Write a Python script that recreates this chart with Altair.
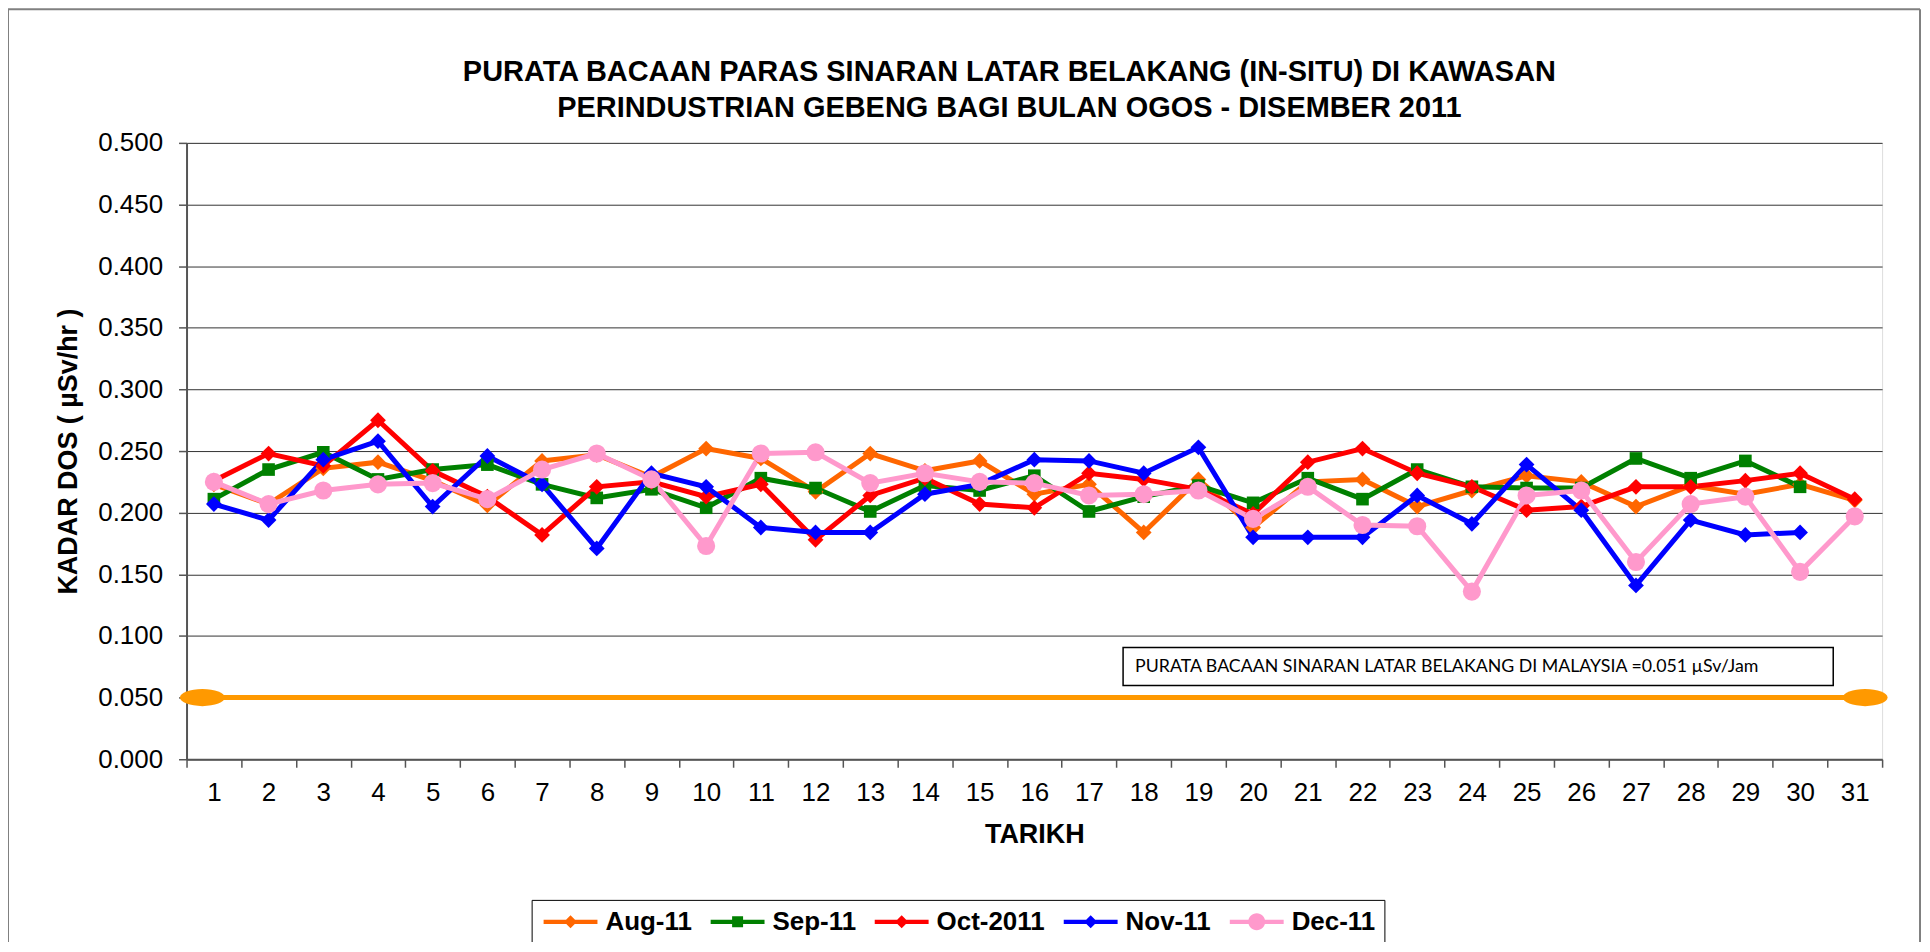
import altair as alt
import pandas as pd

# ---------------- data ----------------
days = list(range(1, 32))
series_names = ["Aug-11", "Sep-11", "Oct-2011", "Nov-11", "Dec-11"]
series_colors = ["#FF6600", "#008000", "#FF0000", "#0000FF", "#FF99CC"]

aug = [0.223, 0.207, 0.236, 0.241, 0.226, 0.206, 0.242, 0.247, 0.229, 0.252,
       0.244, 0.217, 0.248, 0.234, 0.242, 0.215, 0.223, 0.184, 0.227, 0.188,
       0.225, 0.227, 0.205, 0.218, 0.230, 0.225, 0.205, 0.222, 0.215, 0.223, 0.210]
sep = [0.211, 0.235, 0.249, 0.227, 0.235, 0.239, 0.223, 0.212, 0.219, 0.204,
       0.228, 0.220, 0.201, 0.222, 0.218, 0.230, 0.201, 0.213, 0.222, 0.208,
       0.228, 0.211, 0.235, 0.221, 0.220, 0.220, 0.244, 0.228, 0.242, 0.221, None]
oct_ = [0.226, 0.248, 0.238, 0.275, 0.234, 0.213, 0.182, 0.221, 0.225, 0.213,
        0.223, 0.178, 0.214, 0.228, 0.207, 0.204, 0.232, 0.227, 0.219, 0.199,
        0.241, 0.252, 0.232, 0.221, 0.202, 0.205, 0.221, 0.221, 0.226, 0.232, 0.211]
nov = [0.207, 0.194, 0.243, 0.258, 0.205, 0.246, 0.223, 0.171, 0.232, 0.221,
       0.188, 0.184, 0.184, 0.215, 0.223, 0.243, 0.242, 0.232, 0.253, 0.180,
       0.180, 0.180, 0.214, 0.191, 0.239, 0.202, 0.141, 0.194, 0.182, 0.184, None]
dec = [0.225, 0.207, 0.218, 0.223, 0.224, 0.211, 0.235, 0.248, 0.227, 0.173,
       0.248, 0.249, 0.224, 0.232, 0.225, 0.224, 0.214, 0.215, 0.218, 0.195,
       0.221, 0.190, 0.189, 0.136, 0.214, 0.218, 0.160, 0.207, 0.213, 0.152, 0.197]

ref_value = [0.05, 0.05]
ref_days = [0.79, 31.19]
ref_label = "PURATA BACAAN SINARAN LATAR BELAKANG DI MALAYSIA =0.051 \u00b5Sv/Jam"

y_ticks = [0.0, 0.05, 0.1, 0.15, 0.2, 0.25, 0.3, 0.35, 0.4, 0.45, 0.5]
x_tick_edges = [d - 0.5 for d in days] + [31.5]

title_line1 = "PURATA BACAAN PARAS SINARAN LATAR BELAKANG (IN-SITU) DI KAWASAN"
title_line2 = "PERINDUSTRIAN GEBENG BAGI BULAN OGOS - DISEMBER 2011"

# ---------------- tables ----------------
rows = []
for name, vals in zip(series_names, [aug, sep, oct_, nov, dec]):
    for d, v in zip(days, vals):
        if v is not None:
            rows.append({"day": d, "value": v, "series": name})
df = pd.DataFrame(rows)
ref_df = pd.DataFrame({"day": ref_days, "value": ref_value})
note_df = pd.DataFrame({"label": [ref_label]})
t1_df = pd.DataFrame({"line": [title_line1]})
t2_df = pd.DataFrame({"line": [title_line2]})
one_df = pd.DataFrame({"k": [0]})

W, H = 1700, 618
FONT = "Liberation Sans"
band = W / len(days)

x_enc = alt.X("day:Q",
              scale=alt.Scale(domain=[0.5, 31.5], nice=False, zero=False),
              axis=alt.Axis(values=x_tick_edges,
                            labelExpr="datum.value > 31 ? '' : format(datum.value + 0.5, 'd')",
                            labelOffset=band / 2, labelOverlap=False, labelFlush=False,
                            grid=False, tickSize=8, tickColor="#555555", tickWidth=1.5,
                            domainColor="#555555", domainWidth=2,
                            labelFont=FONT, labelFontSize=26, labelColor="black",
                            labelPadding=12,
                            title="TARIKH", titleFont=FONT, titleFontSize=27,
                            titleFontWeight="bold", titleColor="black", titlePadding=16))
y_enc = alt.Y("value:Q",
              scale=alt.Scale(domain=[0, 0.5], nice=False, zero=True),
              axis=alt.Axis(values=y_ticks, format=".3f",
                            grid=True, gridColor="#333333", gridWidth=1,
                            tickSize=8, tickColor="#555555", tickWidth=1.5,
                            domainColor="#555555", domainWidth=2,
                            labelFont=FONT, labelFontSize=26, labelColor="black",
                            labelPadding=16,
                            title="KADAR DOS ( \u00b5Sv/hr )", titleFont=FONT,
                            titleFontSize=27, titleFontWeight="bold", titleColor="black",
                            titleAngle=270, titleX=-118, titleY=H / 2,
                            titleAlign="center", titleBaseline="middle"))

color_scale = alt.Scale(domain=series_names, range=series_colors)

marker_shapes = ["diamond", "square", "diamond", "diamond", "circle"]

# legend symbols: a line with the series marker on it (unit = 10 px, centre 10 px)
bar = "M-1,-0.22 L4.4,-0.22 L4.4,0.22 L-1,0.22 Z "
legend_shapes = [
    bar + "M1.05,0 L1.7,-0.65 L2.35,0 L1.7,0.65 Z",
    bar + "M1.15,-0.55 L2.25,-0.55 L2.25,0.55 L1.15,0.55 Z",
    bar + "M1.05,0 L1.7,-0.65 L2.35,0 L1.7,0.65 Z",
    bar + "M1.05,0 L1.7,-0.65 L2.35,0 L1.7,0.65 Z",
    bar + "M2.55,0 A0.85,0.85 0 1,1 0.85,0 A0.85,0.85 0 1,1 2.55,0 Z",
]

# ---------------- layers ----------------
ref_line = alt.Chart(ref_df).mark_line(color="#FF9900", strokeWidth=5).encode(x=x_enc, y=y_enc)
ref_pts = alt.Chart(ref_df).mark_point(
    filled=True, opacity=1, color="#FF9900", size=2025,
    shape="M-1,0 A1,0.38 0 1,1 1,0 A1,0.38 0 1,1 -1,0 Z").encode(x=x_enc, y=y_enc)

lines = alt.Chart(df).mark_line(strokeWidth=5).encode(
    x=x_enc, y=y_enc,
    color=alt.Color("series:N", scale=color_scale, legend=None),
    detail="series:N",
    order=alt.Order("day:Q"),
)
marker_size = (alt.when(alt.datum.series == "Dec-11").then(alt.value(330))
               .when(alt.datum.series == "Sep-11").then(alt.value(160))
               .otherwise(alt.value(250)))
markers = alt.Chart(df).mark_point(filled=True, opacity=1).encode(
    x=x_enc, y=y_enc,
    color=alt.Color("series:N", scale=color_scale, legend=None),
    shape=alt.Shape("series:N", scale=alt.Scale(domain=series_names, range=marker_shapes), legend=None),
    size=marker_size,
)

leg = alt.Legend(orient="none", legendX=346, legendY=759, direction="horizontal", columns=5,
                 title=None, symbolSize=400, symbolStrokeWidth=0,
                 labelFont=FONT, labelFontSize=26, labelFontWeight="bold", labelColor="black",
                 labelOffset=39, columnPadding=15.5, padding=9, labelLimit=0,
                 strokeColor="black", fillColor="white")
legend_layer = alt.Chart(df).mark_point(filled=True, opacity=1).encode(
    x=x_enc, y=y_enc,
    color=alt.Color("series:N", scale=color_scale, legend=leg),
    shape=alt.Shape("series:N", scale=alt.Scale(domain=series_names, range=legend_shapes), legend=leg),
).transform_filter("false")

note_box = alt.Chart(note_df).mark_rect(fill="white", stroke="black", strokeWidth=1.5).encode(
    x=alt.value(939), x2=alt.value(1651), y=alt.value(506), y2=alt.value(544))
note_text = alt.Chart(note_df).mark_text(
    align="left", baseline="middle", font="Lato", fontSize=17.8, color="black").encode(
    x=alt.value(951), y=alt.value(526), text="label:N")

title_style = dict(align="center", baseline="middle", font=FONT, fontSize=29,
                   fontWeight="bold", color="black")
title1 = alt.Chart(t1_df).mark_text(**title_style).encode(
    x=alt.value(825), y=alt.value(-71), text="line:N")
title2 = alt.Chart(t2_df).mark_text(**title_style).encode(
    x=alt.value(825), y=alt.value(-35), text="line:N")

border_left = alt.Chart(one_df).mark_rule(color="#808080", strokeWidth=2).encode(
    x=alt.value(-179), y=alt.value(-134), y2=alt.value(H + 190))
border_top = alt.Chart(one_df).mark_rule(color="#808080", strokeWidth=2).encode(
    x=alt.value(-179), x2=alt.value(W + 38), y=alt.value(-134))
border_right = alt.Chart(one_df).mark_rule(color="#808080", strokeWidth=2).encode(
    x=alt.value(W + 38), y=alt.value(-134), y2=alt.value(H + 190))

chart = alt.layer(
    border_left, border_top, border_right,
    title1, title2,
    note_box, note_text,
    ref_line, ref_pts,
    lines, markers, legend_layer,
).resolve_scale(shape="independent", color="independent").properties(
    width=W, height=H,
    autosize=alt.AutoSizeParams(type="none"),
    padding={"left": 179, "top": 134, "right": 40, "bottom": 182},
).configure_view(stroke="#808080", strokeWidth=2).configure(background="white")

chart.save("out.html", embed_options={"renderer": "svg", "actions": False})
